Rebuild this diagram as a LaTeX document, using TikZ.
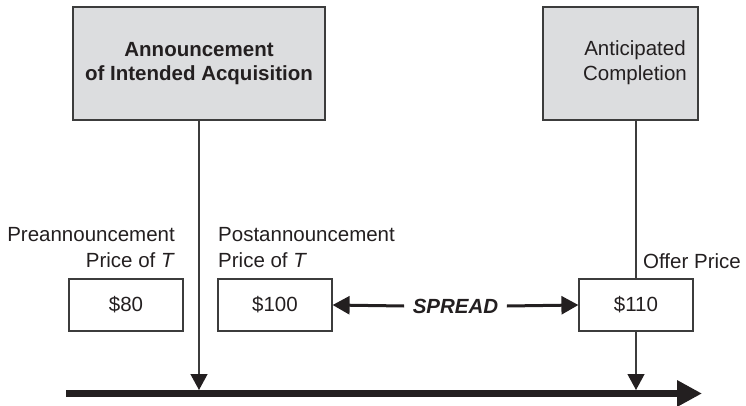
\documentclass[tikz,border=0pt]{standalone}
\usepackage{fontspec}
\setmainfont{Liberation Sans}
\usetikzlibrary{arrows.meta}
\definecolor{boxgray}{HTML}{DCDDDF}
\definecolor{ink}{HTML}{231F20}
\definecolor{linegray}{HTML}{3C3C3C}
\begin{document}
\begin{tikzpicture}[x=1pt,y=-1pt,
  every node/.style={font=\fontsize{20.5pt}{24.5pt}\selectfont, text=ink, inner sep=0pt},
  headbox/.style={draw=linegray, line width=1.4pt, fill=boxgray, minimum width=#1, minimum height=113pt},
  headtext/.style={align=center},
  pricebox/.style={draw=linegray, line width=1.2pt, fill=white, minimum width=114pt, minimum height=52pt},
  link/.style={draw=linegray, line width=1.3pt},
  drop/.style={draw=linegray, line width=1.3pt, -{Triangle[length=16pt,width=17pt,color=ink]}},
  spreadarrow/.style={draw=ink, line width=3pt, -{Triangle[length=17pt,width=18pt]}},
  timeline/.style={draw=ink, line width=7pt, -{Triangle[length=25pt,width=25pt]}}
]
\useasboundingbox (0,0) rectangle (746,406);

% top boxes
\node[headbox=252pt] (ann) at (199,63.5) {};
\node[headtext, font=\fontsize{20.5pt}{24.5pt}\selectfont\bfseries] (anntext) at (199,63.5) {Announcement\\of Intended Acquisition};
\node[headbox=155pt] (comp) at (620.5,63.5) {};
\node[headtext] (comptext) at (635,62.5) {Anticipated\\Completion};

% price boxes
\node[pricebox] (p80) at (126,305) {\$80};
\node[pricebox] (p100) at (275,305) {\$100};
\node[pricebox] (p110) at (636,305) {\$110};

% labels
\node[anchor=base east] (pre1) at (175,241) {Preannouncement};
\node[anchor=base east] (pre2) at (175,267) {Price of \textit{T}};
\node[anchor=base west] (post1) at (218,241) {Postannouncement};
\node[anchor=base west] (post2) at (218,267) {Price of \textit{T}};
\node[anchor=base west] (offer) at (643,268) {Offer Price};

% spread
\node[inner xsep=8.5pt, font=\fontsize{20.5pt}{24.5pt}\selectfont\bfseries\itshape] (spread) at (455.5,306) {SPREAD};
\draw[spreadarrow] (spread.west) -- (p100.east);
\draw[spreadarrow] (spread.east) -- (p110.west);

% timeline
\coordinate (tlstart) at (66,393.5);
\coordinate (tlend) at (702,393.5);
\coordinate (hit1) at (199,390);
\coordinate (hit2) at (636,390);
\draw[timeline] (tlstart) -- (tlend);

% connectors
\draw[drop] (ann.south) -- (hit1);
\draw[link] (p110.north |- comp.south) -- (p110.north);
\draw[drop] (p110.south) -- (hit2);
\end{tikzpicture}
\end{document}
